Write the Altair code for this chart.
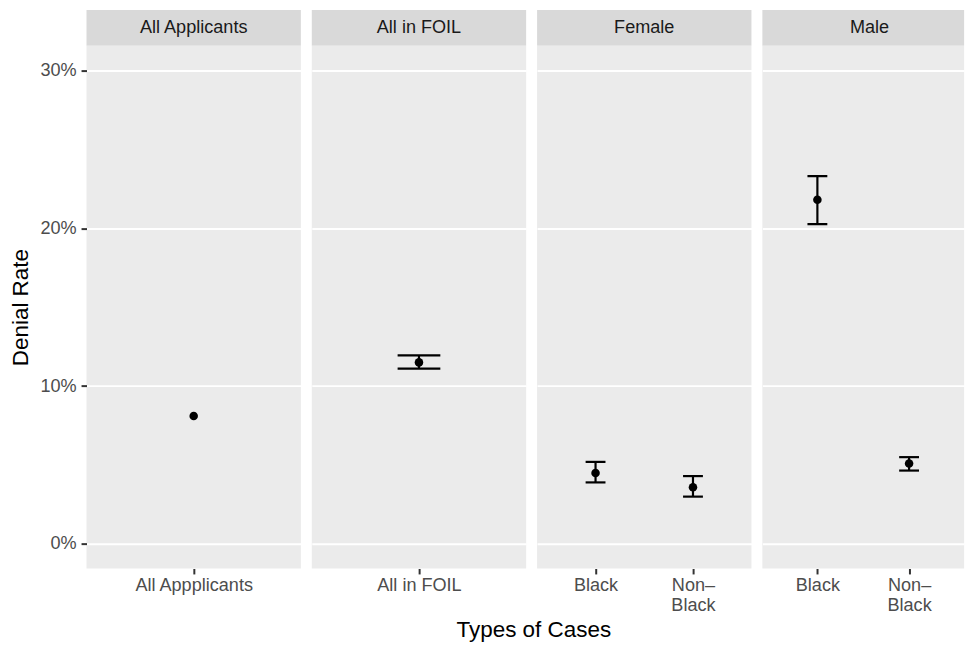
import altair as alt
import pandas as pd

# ---- data ----
facets = ["All Applicants", "All in FOIL", "Female", "Female", "Male", "Male"]
categories = ["All Appplicants", "All in FOIL", "Black", "Non–Black", "Black", "Non–Black"]
rate = [8.1, 11.5, 4.5, 3.6, 21.8, 5.1]
lower = [None, 11.1, 3.9, 3.0, 20.25, 4.65]
upper = [None, 11.95, 5.2, 4.3, 23.3, 5.5]
panel_order = ["All Applicants", "All in FOIL", "Female", "Male"]

df = pd.DataFrame({
    "facet": facets,
    "cat": categories,
    "rate": [r / 100 for r in rate],
    "lo": [None if v is None else v / 100 for v in lower],
    "hi": [None if v is None else v / 100 for v in upper],
})

FONT = "Liberation Sans"
PWS = [215.7, 215.7, 215.7, 203]
PH = 526
SH = 36
LAB = 18.2
TIT = 22.6
ydom = [-0.0155, 0.3155]
cap_sizes = {"All Applicants": 43, "All in FOIL": 43, "Female": 20, "Male": 20}

label_expr = "indexof(datum.label, '–') > 0 ? split(replace(datum.label, '–', '–|'), '|') : datum.label"

columns = []
for i, f in enumerate(panel_order):
    PW = PWS[i]
    sub = df[df["facet"] == f]
    cats = list(dict.fromkeys(sub["cat"].tolist()))
    xenc = alt.X("cat:N", sort=cats,
                 scale=alt.Scale(type="point", padding=0.6),
                 axis=alt.Axis(title=None, domain=False, grid=False, tickSize=5.5,
                               tickColor="#333333", tickWidth=2, labelAngle=0,
                               labelAlign="center", labelBaseline="top",
                               labelFlush=False, labelBound=False, labelOverlap=False,
                               labelColor="#4D4D4D", labelFontSize=LAB, labelFont=FONT,
                               labelPadding=3, labelLineHeight=20, labelExpr=label_expr))
    if i == 0:
        yaxis = alt.Axis(title="Denial Rate", format=".0%", values=[0, 0.1, 0.2, 0.3],
                         domain=False, tickSize=5.5, tickColor="#333333", tickWidth=2,
                         labelColor="#4D4D4D", labelFontSize=LAB, labelFont=FONT,
                         labelPadding=5, titleFont=FONT, titleFontSize=TIT,
                         titleFontWeight="normal", titleColor="black", titlePadding=7,
                         grid=True, gridColor="white", gridWidth=2)
    else:
        yaxis = alt.Axis(title=None, labels=False, ticks=False, domain=False,
                         values=[0, 0.1, 0.2, 0.3],
                         grid=True, gridColor="white", gridWidth=2)
    yscale = alt.Scale(domain=ydom, nice=False, zero=False)

    base = alt.Chart(sub)
    pts = base.mark_circle(size=74, color="black", opacity=1).encode(
        x=xenc, y=alt.Y("rate:Q", scale=yscale, axis=yaxis))
    layers = [pts]
    eb = sub.dropna(subset=["lo", "hi"])
    if len(eb) > 0:
        ebase = alt.Chart(eb)
        rule = ebase.mark_rule(color="black", strokeWidth=2.2).encode(
            x=alt.X("cat:N", sort=cats), y=alt.Y("lo:Q", scale=yscale), y2="hi:Q")
        tlo = ebase.mark_tick(color="black", thickness=2.2, size=cap_sizes[f],
                              orient="horizontal", opacity=1).encode(
            x=alt.X("cat:N", sort=cats), y=alt.Y("lo:Q", scale=yscale))
        thi = ebase.mark_tick(color="black", thickness=2.2, size=cap_sizes[f],
                              orient="horizontal", opacity=1).encode(
            x=alt.X("cat:N", sort=cats), y=alt.Y("hi:Q", scale=yscale))
        layers = [rule, tlo, thi, pts]
    panel = alt.layer(*layers).properties(
        width=PW, height=PH,
        view=alt.ViewBackground(fill="#EBEBEB", stroke=None))

    strip = alt.Chart(pd.DataFrame({"label": [f]})).mark_text(
        font=FONT, fontSize=LAB, color="#1A1A1A", baseline="middle", align="center"
    ).encode(text="label:N", x=alt.value(PWS[0] / 2), y=alt.value(SH / 2)).properties(
        width=PW, height=SH,
        view=alt.ViewBackground(fill="#D9D9D9", stroke=None))

    columns.append(alt.vconcat(strip, panel, spacing=0))

chart = alt.hconcat(*columns, spacing=10.7).properties(
    padding={"left": 2, "top": 0, "right": 0, "bottom": 0},
    title=alt.TitleParams("Types of Cases", orient="bottom", anchor="middle",
                          font=FONT, fontSize=TIT, fontWeight="normal",
                          color="black", dx=47, offset=5),
).configure_view(stroke=None).configure(background="white")

chart.save("out.html", embed_options={"renderer": "svg", "actions": False})
